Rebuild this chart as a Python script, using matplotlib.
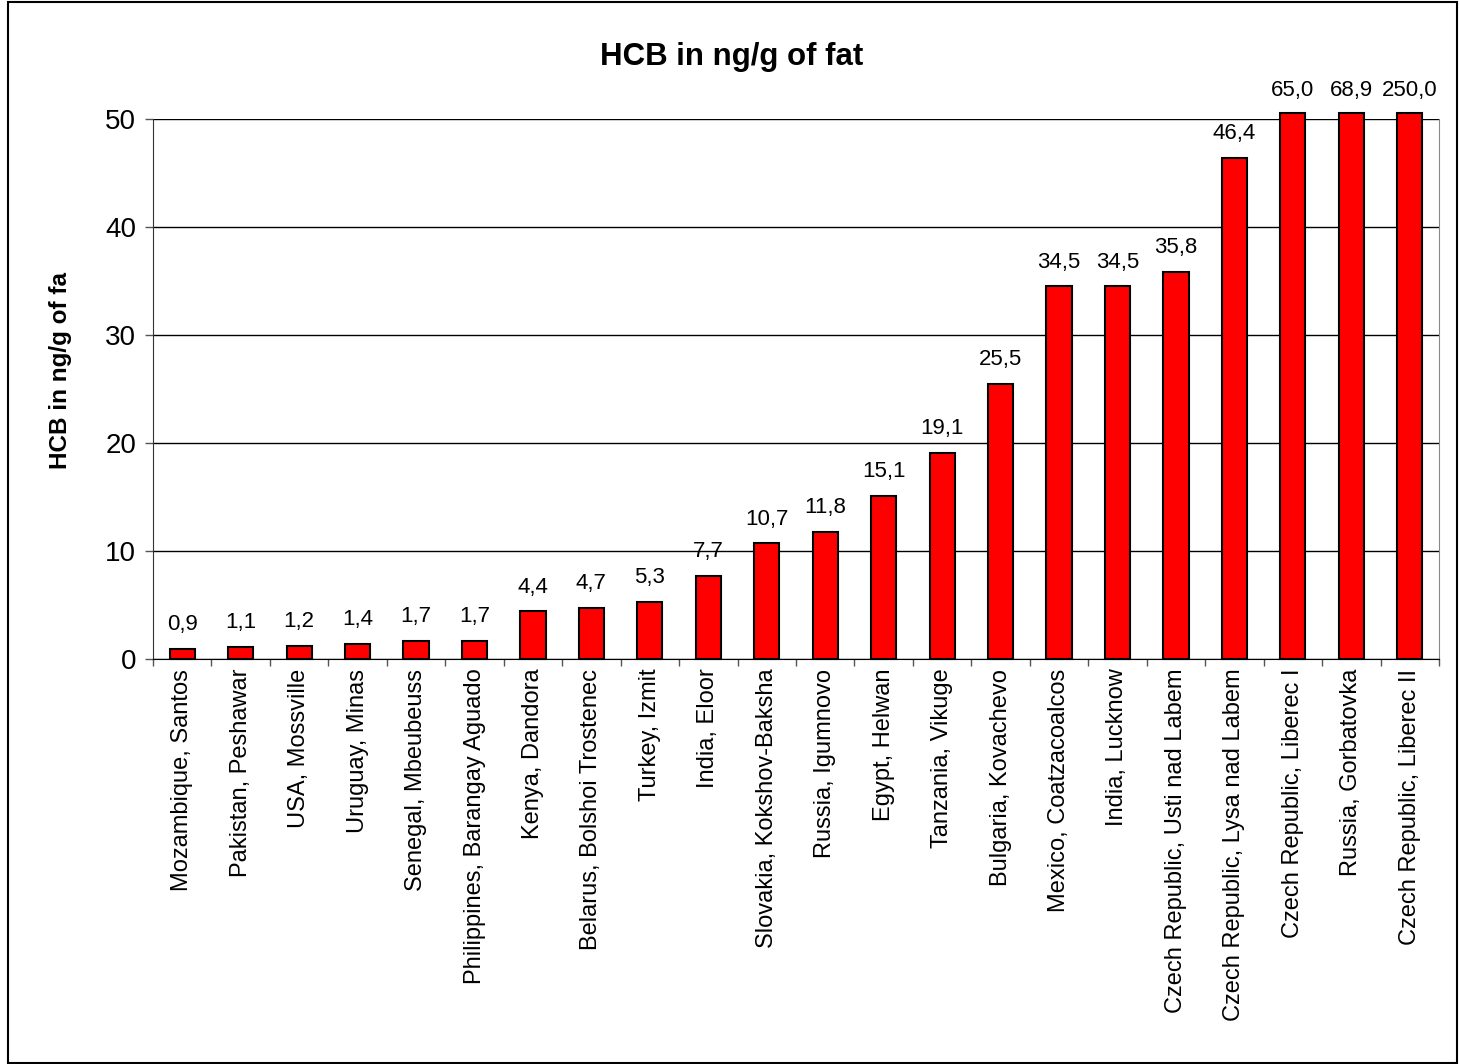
import matplotlib.pyplot as plt
from matplotlib.patches import Rectangle

plt.rcParams["font.family"] = ["Liberation Sans", "DejaVu Sans"]

sites = [
    "Mozambique, Santos", "Pakistan, Peshawar", "USA, Mossville", "Uruguay, Minas",
    "Senegal, Mbeubeuss", "Philippines, Barangay Aguado", "Kenya, Dandora",
    "Belarus, Bolshoi Trostenec", "Turkey, Izmit", "India, Eloor",
    "Slovakia, Kokshov-Baksha", "Russia, Igumnovo", "Egypt, Helwan",
    "Tanzania, Vikuge", "Bulgaria, Kovachevo", "Mexico, Coatzacoalcos",
    "India, Lucknow", "Czech Republic, Usti nad Labem",
    "Czech Republic, Lysa nad Labem", "Czech Republic, Liberec I",
    "Russia, Gorbatovka", "Czech Republic, Liberec II",
]
hcb = [0.9, 1.1, 1.2, 1.4, 1.7, 1.7, 4.4, 4.7, 5.3, 7.7, 10.7, 11.8, 15.1,
       19.1, 25.5, 34.5, 34.5, 35.8, 46.4, 65.0, 68.9, 250.0]
yticks = [0, 10, 20, 30, 40, 50]

ymax = 50
fig = plt.figure(figsize=(14.59, 10.64), dpi=100)
ax = fig.add_axes([153 / 1459, 1 - 659 / 1064, (1439 - 153) / 1459, 540 / 1064])

x = list(range(len(hcb)))
# bars above the axis limit are cut just above the top, like in Excel
shown = [min(v, ymax + 0.55) for v in hcb]
bars = ax.bar(x, shown, width=0.43, color="#ff0000", edgecolor="black",
              linewidth=1.5, zorder=3)
for b in bars:
    b.set_clip_on(False)

for xi, v, s in zip(x, hcb, shown):
    off = 9 if v > ymax else 10
    ax.annotate(f"{v:.1f}".replace(".", ","), (xi, s), xytext=(0, off),
                textcoords="offset points", ha="center", va="bottom",
                fontsize=16, annotation_clip=False)

ax.set_xlim(-0.5, len(hcb) - 0.5)
ax.set_ylim(0, ymax)
ax.set_yticks(yticks)
ax.set_yticklabels([str(t) for t in yticks], fontsize=20)
ax.yaxis.grid(True, color="black", linewidth=1)
ax.set_axisbelow(True)

ax.set_xticks([i + 0.5 for i in range(-1, len(hcb))], minor=False)
ax.set_xticklabels([])
ax.set_xticks(x, minor=True)
ax.set_xticklabels(sites, minor=True, rotation=90, fontsize=17, va="top")
ax.tick_params(axis="x", which="major", length=5, width=1, color="#555555")
ax.tick_params(axis="x", which="minor", length=0, pad=7)
ax.tick_params(axis="y", length=6, width=1, color="#555555", pad=6)

ax.spines["top"].set_visible(False)
ax.spines["right"].set_color("#888888")
ax.spines["left"].set_color("#333333")
ax.spines["bottom"].set_color("black")

fig.text(732 / 1459, 1 - 57 / 1064, "HCB in ng/g of fat", ha="center",
         va="center", fontsize=22.5, fontweight="bold")
fig.text(60 / 1459, 1 - 371 / 1064, "HCB in ng/g of fa", ha="center",
         va="center", rotation=90, fontsize=17.5, fontweight="bold")

fig.patches.append(Rectangle((8 / 1459, 1 / 1064), 1449 / 1459, 1061 / 1064,
                             transform=fig.transFigure, fill=False,
                             edgecolor="black", linewidth=1.5))

plt.savefig("out.png")
